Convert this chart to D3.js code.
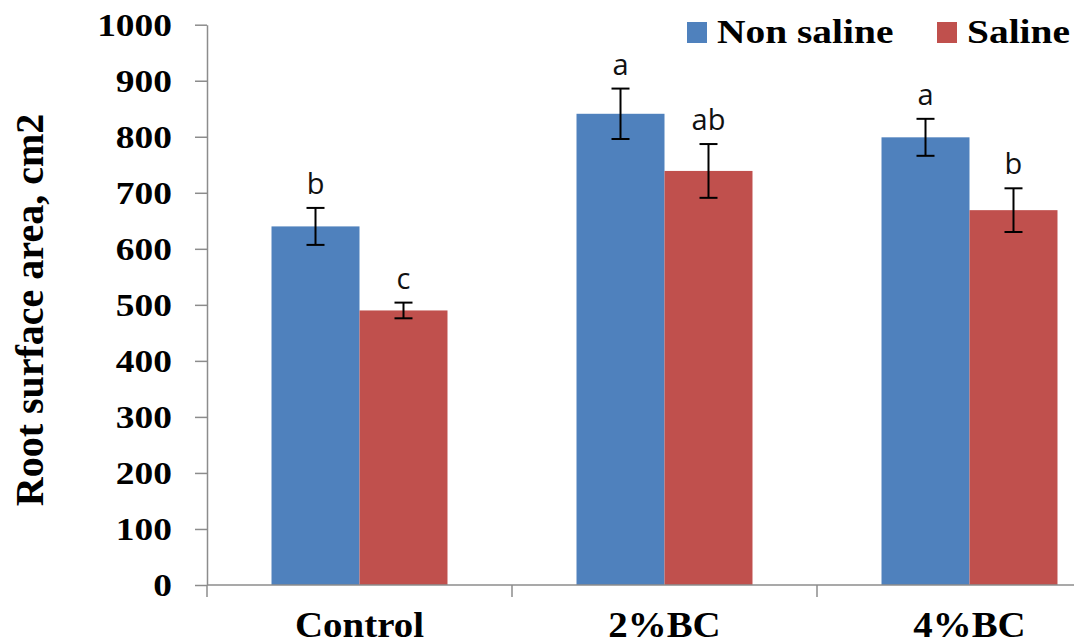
<!DOCTYPE html>
<html>
<head>
<meta charset="utf-8">
<script src="https://cdn.jsdelivr.net/npm/d3@7"></script>
<style>
  body { margin: 0; background: #fff; }
  svg { display: block; }
</style>
</head>
<body>
<div id="chart"></div>
<script>
const width = 1074;
const height = 644;

// data
const categories = ["Control", "2%BC", "4%BC"];
const seriesNames = ["Non saline", "Saline"];
const nonSaline = [640, 841, 799];
const nonSalineErr = [33, 45, 33];
const saline = [490, 739, 669];
const salineErr = [14, 48, 39];
const nonSalineLetters = ["b", "a", "a"];
const salineLetters = ["c", "ab", "b"];
const yTicks = [0, 100, 200, 300, 400, 500, 600, 700, 800, 900, 1000];

const colors = ["#4F81BD", "#C0504D"];
const serif = "'Liberation Serif', 'Times New Roman', serif";

// stretch text horizontally (the source picture is a bit wider than tall)
function stretch(sel, k) {
    sel.each(function () {
        const w = this.getComputedTextLength();
        d3.select(this)
            .attr("textLength", w * k)
            .attr("lengthAdjust", "spacingAndGlyphs");
    });
}

const svg = d3.select("#chart")
    .append("svg")
    .attr("width", width)
    .attr("height", height);

const left = 207;
const step = 305;
const p = 0.423;

const x = d3.scaleBand()
    .domain(categories)
    .range([left, left + step * categories.length])
    .paddingInner(p)
    .paddingOuter(p / 2);

const xs = d3.scaleBand()
    .domain(seriesNames)
    .range([0, x.bandwidth()]);

const y = d3.scaleLinear()
    .domain([0, 1000])
    .range([585, 24.7]);

const rows = categories.map((c, i) => ({
    cat: c,
    vals: [
        { s: seriesNames[0], v: nonSaline[i], e: nonSalineErr[i], l: nonSalineLetters[i] },
        { s: seriesNames[1], v: saline[i], e: salineErr[i], l: salineLetters[i] }
    ]
}));

// y axis
const yAxis = svg.append("g")
    .attr("transform", `translate(${left},0)`)
    .call(d3.axisLeft(y)
        .tickValues(yTicks)
        .tickFormat(d3.format("d"))
        .tickSize(12)
        .tickSizeOuter(0)
        .tickPadding(23));

yAxis.select(".domain").attr("stroke", "#8c8c8c").attr("stroke-width", 1.5);
yAxis.selectAll(".tick line").attr("stroke", "#8c8c8c").attr("stroke-width", 1.5);
yAxis.selectAll(".tick text")
    .attr("font-family", serif)
    .attr("font-weight", "bold")
    .attr("font-size", 32)
    .attr("fill", "#000")
    .attr("dy", "0.34em")
    .call(stretch, 1.17);

// bars
const groups = svg.selectAll("g.grp")
    .data(rows)
    .join("g")
    .attr("class", "grp")
    .attr("transform", d => `translate(${x(d.cat)},0)`);

groups.selectAll("rect")
    .data(d => d.vals)
    .join("rect")
    .attr("x", d => xs(d.s))
    .attr("y", d => y(d.v))
    .attr("width", xs.bandwidth())
    .attr("height", d => y(0) - y(d.v))
    .attr("fill", (d, i) => colors[i]);

// error bars
const capW = 9;
const err = groups.selectAll("g.err")
    .data(d => d.vals)
    .join("g")
    .attr("class", "err")
    .attr("transform", d => `translate(${xs(d.s) + xs.bandwidth() / 2},0)`);

err.append("line")
    .attr("y1", d => y(d.v + d.e))
    .attr("y2", d => y(d.v - d.e));
err.append("line")
    .attr("x1", -capW).attr("x2", capW)
    .attr("y1", d => y(d.v + d.e)).attr("y2", d => y(d.v + d.e));
err.append("line")
    .attr("x1", -capW).attr("x2", capW)
    .attr("y1", d => y(d.v - d.e)).attr("y2", d => y(d.v - d.e));
err.selectAll("line").attr("stroke", "#000").attr("stroke-width", 2);

// significance letters
err.append("text")
    .attr("y", d => y(d.v + d.e) - 14)
    .attr("text-anchor", "middle")
    .attr("font-family", "'Open Sans', sans-serif")
    .attr("font-size", 29)
    .attr("fill", "#111")
    .text(d => d.l);

// x axis
const xAxis = svg.append("g");
xAxis.append("line")
    .attr("x1", left).attr("x2", width)
    .attr("y1", y(0)).attr("y2", y(0))
    .attr("stroke", "#8c8c8c").attr("stroke-width", 1.5);

const bounds = categories.map(c => x(c) - (x.step() - x.bandwidth()) / 2);
xAxis.selectAll("line.tk")
    .data(bounds)
    .join("line")
    .attr("class", "tk")
    .attr("x1", d => d).attr("x2", d => d)
    .attr("y1", y(0)).attr("y2", y(0) + 12)
    .attr("stroke", "#8c8c8c").attr("stroke-width", 1.5);

xAxis.selectAll("text")
    .data(categories)
    .join("text")
    .attr("x", d => x(d) + x.bandwidth() / 2)
    .attr("y", 637)
    .attr("text-anchor", "middle")
    .attr("font-family", serif)
    .attr("font-weight", "bold")
    .attr("font-size", 36)
    .attr("fill", "#000")
    .text(d => d)
    .call(stretch, 1.08);

// y axis title
svg.append("text")
    .attr("transform", "translate(43,310) rotate(-90)")
    .attr("text-anchor", "middle")
    .attr("font-family", serif)
    .attr("font-weight", "bold")
    .attr("font-size", 40)
    .attr("fill", "#000")
    .text("Root surface area, cm2");

// legend
const legendX = [687, 937];
const legend = svg.selectAll("g.leg")
    .data(seriesNames)
    .join("g")
    .attr("class", "leg")
    .attr("transform", (d, i) => `translate(${legendX[i]},22)`);

legend.append("rect")
    .attr("width", 20)
    .attr("height", 21)
    .attr("fill", (d, i) => colors[i]);

legend.append("text")
    .attr("x", 30)
    .attr("y", 21)
    .attr("font-family", serif)
    .attr("font-weight", "bold")
    .attr("font-size", 34)
    .attr("fill", "#000")
    .text(d => d)
    .call(stretch, 1.16);
</script>
</body>
</html>
